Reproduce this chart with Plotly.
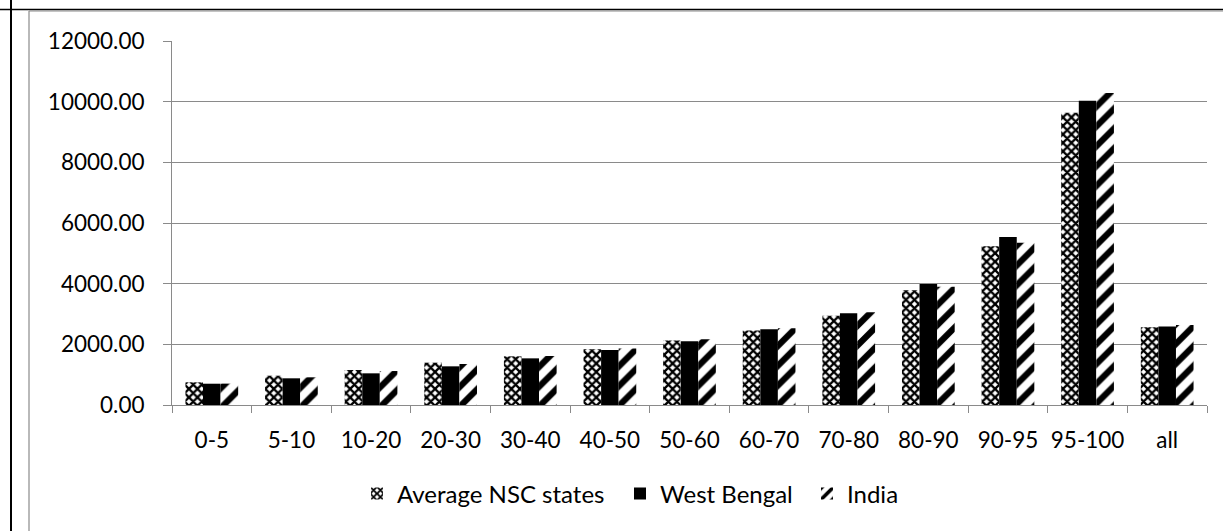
import plotly.graph_objects as go

# Expenditure class groups (percentile ranges) and the three series
categories = ["0-5", "5-10", "10-20", "20-30", "30-40", "40-50", "50-60",
              "60-70", "70-80", "80-90", "90-95", "95-100", "all"]
avg_nsc = [748, 966, 1153, 1395, 1604, 1842, 2130, 2460, 2940, 3785, 5230, 9637, 2563]
west_bengal = [702, 880, 1044, 1275, 1538, 1815, 2100, 2495, 3025, 3985, 5535, 10030, 2585]
india = [705, 913, 1120, 1351, 1615, 1865, 2165, 2530, 3060, 3900, 5350, 10285, 2640]

y_ticks = [0, 2000, 4000, 6000, 8000, 10000, 12000]

FONT = "Lato"
FS = 22.5
LEG_FS = 24
GRID = "#8a8a8a"

W, H = 1223, 531
L, R, T, B = 172, 16, 41, 126
pw, ph = W - L - R, H - T - B


def px_x(px):
    return (px - L) / pw


def px_y(py):
    return (H - B - py) / ph


fig = go.Figure()

fig.add_trace(go.Bar(
    name="Average NSC states", x=categories, y=avg_nsc, legendwidth=218,
    marker=dict(color="white", line=dict(width=0),
                pattern=dict(shape="x", size=6, solidity=0.62,
                             fgcolor="black", bgcolor="white",
                             fgopacity=1, fillmode="replace")),
))
fig.add_trace(go.Bar(
    name="West Bengal", x=categories, y=west_bengal, legendwidth=142,
    marker=dict(color="black", line=dict(width=0)),
))
fig.add_trace(go.Bar(
    name="India", x=categories, y=india, legendwidth=60,
    marker=dict(color="white", line=dict(width=0),
                pattern=dict(shape="/", size=14, solidity=0.45,
                             fgcolor="black", bgcolor="white",
                             fgopacity=1, fillmode="replace")),
))

# Frame lines around the chart
shapes = [
    dict(type="line", xref="paper", yref="paper",
         x0=px_x(0), x1=px_x(W), y0=px_y(9.5), y1=px_y(9.5),
         line=dict(color="black", width=1.5)),
    dict(type="line", xref="paper", yref="paper",
         x0=px_x(11), x1=px_x(11), y0=px_y(0), y1=px_y(H),
         line=dict(color="black", width=2)),
    dict(type="line", xref="paper", yref="paper",
         x0=px_x(29), x1=px_x(29), y0=px_y(11), y1=px_y(H),
         line=dict(color=GRID, width=1.2)),
    dict(type="line", xref="paper", yref="paper",
         x0=px_x(29), x1=px_x(W), y0=px_y(11), y1=px_y(11),
         line=dict(color=GRID, width=1)),
]

fig.update_layout(
    width=W, height=H,
    margin=dict(l=L, r=R, t=T, b=B, autoexpand=False),
    paper_bgcolor="white", plot_bgcolor="white",
    barmode="group", bargap=0.338, bargroupgap=0,
    font=dict(family=FONT, size=FS, color="black"),
    shapes=shapes,
    legend=dict(orientation="h", x=px_x(357), xanchor="left",
                y=px_y(494), yanchor="middle",
                font=dict(family=FONT, size=LEG_FS, color="black"),
                itemclick=False, bgcolor="rgba(0,0,0,0)"),
    xaxis=dict(
        type="category", showgrid=False, showline=True, linecolor=GRID,
        linewidth=1, ticks="outside", tickson="boundaries", ticklen=7,
        tickcolor=GRID, tickangle=0,
        tickfont=dict(family=FONT, size=FS, color="black"),
        ticklabelstandoff=15, zeroline=False,
    ),
    yaxis=dict(
        range=[0, 12000], tickvals=y_ticks, tickformat=".2f",
        showgrid=True, gridcolor=GRID, gridwidth=1,
        showline=True, linecolor=GRID, linewidth=1,
        ticks="outside", ticklen=8, tickcolor=GRID,
        tickfont=dict(family=FONT, size=FS, color="black"),
        ticklabelstandoff=14, zeroline=False,
    ),
)

fig.write_html("out.html")
